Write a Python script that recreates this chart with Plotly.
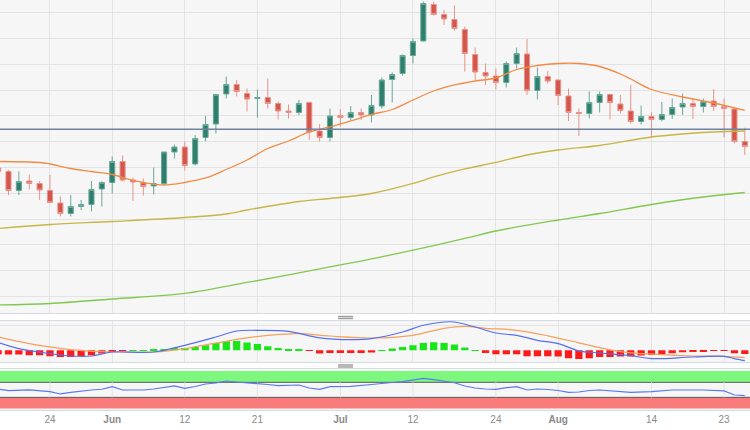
import pandas as pd
import plotly.graph_objects as go
from plotly.subplots import make_subplots

# ---- categories: trading days ----
dates = [d.strftime("%m-%d") for d in pd.bdate_range("2023-05-17", "2023-08-25")]
pos = {d: i for i, d in enumerate(dates)}

# ---- OHLC ----
opens = [1.0964, 1.0957, 1.0919, 1.0938, 1.0933, 1.0919, 1.0894, 1.0873, 1.0887, 1.0891, 1.0922,
         1.0935, 1.0977, 1.0940, 1.0934, 1.0928, 1.0933, 1.0996, 1.1006, 1.0972, 1.1025, 1.1052,
         1.1112, 1.1131, 1.1113, 1.1103, 1.1105, 1.1093, 1.1078, 1.1075, 1.1095, 1.1038, 1.1025,
         1.1069, 1.1065, 1.1075, 1.1070, 1.1088, 1.1141, 1.1153, 1.1189, 1.1218, 1.1291, 1.1271,
         1.1261, 1.1241, 1.1191, 1.1155, 1.1148, 1.1135, 1.1173, 1.1192, 1.1119, 1.1147,
         1.1140, 1.1108, 1.1075, 1.1073, 1.1095, 1.1111, 1.1092, 1.1078, 1.1057, 1.1067, 1.1061,
         1.1071, 1.1086, 1.1093, 1.1087, 1.1098, 1.1087, 1.1082, 1.1017]
highs = [1.0974, 1.0960, 1.0957, 1.0951, 1.0938, 1.0950, 1.0907, 1.0910, 1.0900, 1.0938, 1.0937,
         1.0987, 1.0989, 1.0945, 1.0943, 1.0965, 1.0996, 1.1011, 1.1017, 1.1030, 1.1068, 1.1111,
         1.1147, 1.1140, 1.1123, 1.1121, 1.1143, 1.1097, 1.1091, 1.1100, 1.1095, 1.1052, 1.1083,
         1.1082, 1.1088, 1.1083, 1.1110, 1.1145, 1.1155, 1.1191, 1.1223, 1.1297, 1.1297, 1.1280,
         1.1289, 1.1247, 1.1205, 1.1173, 1.1163, 1.1177, 1.1205, 1.1222, 1.1165, 1.1158,
         1.1141, 1.1123, 1.1083, 1.1117, 1.1117, 1.1111, 1.1110, 1.1130, 1.1089, 1.1076, 1.1096,
         1.1103, 1.1113, 1.1103, 1.1103, 1.1122, 1.1103, 1.1084, 1.1045]
lows = [1.0950, 1.0910, 1.0910, 1.0921, 1.0900, 1.0895, 1.0867, 1.0867, 1.0880, 1.0877, 1.0887,
        1.0913, 1.0937, 1.0898, 1.0909, 1.0911, 1.0930, 1.0983, 1.0959, 1.0969, 1.1017, 1.1033,
        1.1103, 1.1107, 1.1077, 1.1065, 1.1083, 1.1061, 1.1063, 1.1070, 1.1020, 1.1017, 1.1017,
        1.1047, 1.1060, 1.1060, 1.1055, 1.1083, 1.1095, 1.1149, 1.1173, 1.1217, 1.1269, 1.1250,
        1.1239, 1.1157, 1.1140, 1.1130, 1.1121, 1.1125, 1.1163, 1.1110, 1.1101, 1.1133,
        1.1090, 1.1058, 1.1028, 1.1063, 1.1075, 1.1061, 1.1073, 1.1053, 1.1051, 1.1025, 1.1057,
        1.1062, 1.1070, 1.1062, 1.1075, 1.1078, 1.1025, 1.1013, 1.0990]
closes = [1.0957, 1.0919, 1.0937, 1.0933, 1.0920, 1.0895, 1.0873, 1.0887, 1.0891, 1.0921, 1.0935,
          1.0977, 1.0940, 1.0936, 1.0927, 1.0933, 1.0996, 1.1006, 1.0969, 1.1023, 1.1051, 1.1111,
          1.1131, 1.1117, 1.1102, 1.1105, 1.1093, 1.1078, 1.1075, 1.1093, 1.1036, 1.1025, 1.1068,
          1.1065, 1.1075, 1.1070, 1.1089, 1.1140, 1.1151, 1.1189, 1.1217, 1.1293, 1.1271, 1.1262,
          1.1243, 1.1193, 1.1156, 1.1148, 1.1135, 1.1173, 1.1193, 1.1119, 1.1147, 1.1138,
          1.1109, 1.1075, 1.1073, 1.1095, 1.1111, 1.1095, 1.1079, 1.1057, 1.1067, 1.1061, 1.1071,
          1.1085, 1.1093, 1.1087, 1.1097, 1.1087, 1.1083, 1.1017, 1.1007]

price_line_level = 1.10414

# ---- moving averages ----
ma_fast_dates = ["05-17", "05-23", "05-24", "05-26", "05-30", "06-01", "06-05", "06-06", "06-08",
                 "06-12", "06-14", "06-16", "06-20", "06-22", "06-26", "06-28", "06-30", "07-04",
                 "07-06", "07-10", "07-12", "07-14", "07-18", "07-20", "07-24", "07-26", "07-28",
                 "08-01", "08-03", "08-07", "08-09", "08-10", "08-14", "08-17", "08-22", "08-25"]
ma_fast_vals = [1.0977, 1.0975, 1.0972, 1.0963, 1.0957, 1.0951, 1.0939, 1.0935, 1.0930,
                1.0935, 1.0944, 1.0961, 1.0980, 1.1003, 1.1018, 1.1036, 1.1046, 1.1058,
                1.1071, 1.1081, 1.1100, 1.1118, 1.1130, 1.1138, 1.1144, 1.1161, 1.1169,
                1.1173, 1.1173, 1.1167, 1.1152, 1.1142, 1.1121, 1.1106, 1.1094, 1.1079]

ma_mid_dates = ["05-17", "05-24", "06-01", "06-12", "06-16", "06-20", "06-27", "06-30", "07-06",
                "07-12", "07-14", "07-19", "07-24", "07-27", "08-01", "08-07", "08-14", "08-17",
                "08-22", "08-25"]
ma_mid_vals = [1.0843, 1.0851, 1.0857, 1.0865, 1.0872, 1.0880, 1.0897, 1.0903, 1.0913,
               1.0933, 1.0946, 1.0962, 1.0975, 1.0990, 1.1000, 1.1009, 1.1026, 1.1032,
               1.1036, 1.1038]

ma_slow_dates = ["05-17", "05-24", "06-01", "06-12", "06-20", "06-26", "06-29", "07-03", "07-06",
                 "07-11", "07-19", "07-24", "08-01", "08-07", "08-14", "08-21", "08-25"]
ma_slow_vals = [1.0690, 1.0693, 1.0702, 1.0713, 1.0735, 1.0750, 1.0762, 1.0770, 1.0782,
                1.0795, 1.0823, 1.0838, 1.0860, 1.0873, 1.0891, 1.0906, 1.0915]

# ---- MACD ----
macd_dates = ["05-17", "05-19", "05-24", "05-26", "05-30", "06-01", "06-07", "06-12", "06-15",
              "06-19", "06-21", "06-26", "06-29", "07-04", "07-06", "07-11", "07-13", "07-17",
              "07-18", "07-20", "07-24", "07-26", "07-28", "08-01", "08-03", "08-07", "08-10",
              "08-14", "08-18", "08-23", "08-24", "08-25"]
macd_vals = [0.00077, 0.00017, -0.00033, -0.00057, -0.00057, -0.00017, -0.00017, 0.0005, 0.00133,
             0.00193, 0.0020, 0.0019, 0.00125, 0.00107, 0.00117, 0.00183, 0.0025, 0.00283,
             0.00283, 0.00233, 0.00173, 0.0015, 0.0010, 0.00067, -0.00005, -0.00027, -0.00053,
             -0.00083, -0.00067, -0.0006, -0.00083, -0.00103]

signal_dates = ["05-17", "05-22", "05-26", "06-01", "06-07", "06-12", "06-19", "06-22", "06-27",
                "06-30", "07-06", "07-12", "07-17", "07-19", "07-21", "07-26", "07-31", "08-03",
                "08-08", "08-10", "08-15", "08-18", "08-23", "08-25"]
signal_vals = [0.00133, 0.00067, 0.00007, -0.00017, -0.00017, 0.00017, 0.0011, 0.0015, 0.00167,
               0.00143, 0.00123, 0.0015, 0.0022, 0.0024, 0.0022, 0.0020, 0.00145, 0.00075,
               0.00005, -0.00025, -0.00043, -0.00057, -0.0006, -0.00073]

hist_vals = [-0.0004, -0.00043, -0.00043, -0.0005, -0.0005, -0.0006, -0.00067, -0.00067, -0.00057, -0.0005, -0.00033,
             -0.00007, -0.00003, 0.00003, 0.00003, 0.00005, 0.00007, 0.00023, 0.00023, 0.00033, 0.0005,
             0.00073, 0.0009, 0.00093, 0.00077, 0.00063, 0.0004, 0.00023, 0.00013, 0.00007, -0.00005,
             -0.00033, -0.00027, -0.00027, -0.00027, -0.00027, -0.00023, 0.00002, 0.00017, 0.00033, 0.0005,
             0.00073, 0.0008, 0.00073, 0.00057, 0.00027, 0.00002, -0.00027, -0.0004, -0.0004, -0.0004,
             -0.0006, -0.0006, -0.0006, -0.00063, -0.0008, -0.00087, -0.0008, -0.00067, -0.00067, -0.00063,
             -0.00063, -0.00053, -0.00047, -0.00037, -0.0003, -0.0002, -0.00013, -0.00007, -0.00005, -0.00003,
             -0.0003, -0.00037]

# ---- RSI ----
rsi_dates = ["05-17", "05-18", "05-22", "05-24", "05-25", "05-26", "05-30", "05-31", "06-01", "06-02",
             "06-06", "06-07", "06-09", "06-12", "06-13", "06-14", "06-15", "06-16", "06-19", "06-21",
             "06-22", "06-23", "06-27", "06-28", "06-29", "06-30", "07-04", "07-06", "07-07", "07-10",
             "07-11", "07-12", "07-13", "07-14", "07-17", "07-18", "07-19", "07-20", "07-21", "07-24",
             "07-25", "07-26", "07-27", "07-28", "07-31", "08-01", "08-02", "08-03", "08-04", "08-07",
             "08-10", "08-14", "08-16", "08-21", "08-23", "08-24", "08-25"]
rsi_vals = [52, 48, 50, 45, 39, 43.5, 49.6, 51.5, 58.4, 49.6,
            49.6, 52.3, 60.3, 54.1, 59, 65.6, 68.3, 73.6, 70.9, 67.5,
            64.3, 61, 62.9, 54.9, 51.5, 58.4, 59, 64.3, 66, 69.6,
            72, 76, 80.8, 77, 73.6, 69, 60.3, 54.9, 52.3, 51.5,
            55.7, 58.4, 49.6, 52.3, 50.9, 48.3, 43.5, 44.3, 48.3, 49.6,
            43.5, 45, 49.6, 49.6, 47, 36.3, 34.4]
rsi_upper, rsi_lower = 70, 30

# ---- x ticks ----
tick_dates = ["05-24", "06-01", "06-12", "06-21", "07-03", "07-12", "07-24", "08-01", "08-14", "08-23"]
tick_text = ["24", "<b>Jun</b>", "12", "21", "<b>Jul</b>", "12", "24", "<b>Aug</b>", "14", "23"]


def idx(ds):
    return [pos[d] for d in ds]


xi = list(range(len(dates)))

fig = make_subplots(rows=3, cols=1, shared_xaxes=True, vertical_spacing=0.0)

fig.add_trace(go.Candlestick(
    x=xi, open=opens, high=highs, low=lows, close=closes,
    increasing=dict(fillcolor="#2e7f6d", line=dict(color="#69a899", width=1)),
    decreasing=dict(fillcolor="#d6554a", line=dict(color="#e6948b", width=1)),
    whiskerwidth=0, hoverinfo="skip"), row=1, col=1)

fig.add_trace(go.Scatter(x=idx(ma_slow_dates), y=ma_slow_vals, mode="lines", line_shape="spline",
                         line=dict(color="#82c850", width=1.3)), row=1, col=1)
fig.add_trace(go.Scatter(x=idx(ma_mid_dates), y=ma_mid_vals, mode="lines", line_shape="spline",
                         line=dict(color="#c8b546", width=1.3)), row=1, col=1)
fig.add_trace(go.Scatter(x=idx(ma_fast_dates), y=ma_fast_vals, mode="lines", line_shape="spline",
                         line=dict(color="#f28b45", width=1.3)), row=1, col=1)

hist_colors = ["#19e619" if v >= 0 else "#ff1a1a" for v in hist_vals]
fig.add_trace(go.Bar(x=xi, y=hist_vals, marker=dict(color=hist_colors, line=dict(width=0)),
                     width=0.7), row=2, col=1)
fig.add_trace(go.Scatter(x=idx(signal_dates), y=signal_vals, mode="lines", line_shape="spline",
                         line=dict(color="#f6a05c", width=1.2)), row=2, col=1)
fig.add_trace(go.Scatter(x=idx(macd_dates), y=macd_vals, mode="lines", line_shape="spline",
                         line=dict(color="#5570f0", width=1.2)), row=2, col=1)

fig.add_trace(go.Scatter(x=idx(rsi_dates), y=rsi_vals, mode="lines",
                         line=dict(color="#5b78f2", width=1.2)), row=3, col=1)

x_range = [0.18, 72.5]
grid = "#e3e3e3"
border = "#d5dbe3"
tickv = idx(tick_dates)
for ax in ["xaxis", "xaxis2", "xaxis3"]:
    fig.layout[ax].update(range=x_range, tickmode="array", tickvals=tickv, ticktext=tick_text,
                          showgrid=(ax != "xaxis3"), gridcolor=grid, gridwidth=1, zeroline=False,
                          showline=True, linecolor=border, mirror=True, ticks="",
                          showticklabels=(ax == "xaxis3"),
                          tickfont=dict(family="Liberation Sans, Arial, sans-serif", size=10, color="#8a8a8a"))
fig.layout.xaxis.rangeslider.visible = False

fig.update_layout(
    yaxis=dict(domain=[0.2359, 1.0], range=[1.06734, 1.1300], tickmode="linear", tick0=1.12746,
               dtick=0.00516, showticklabels=False, gridcolor=grid, zeroline=False, showline=False),
    yaxis2=dict(domain=[0.1163, 0.2171], range=[-0.0012, 0.00293], tickmode="array", tickvals=[0.00243],
                showticklabels=False, gridcolor=grid, zeroline=False, showline=False),
    yaxis3=dict(domain=[0.0, 0.0993], range=[-3.73, 104.8], showgrid=False, showticklabels=False,
                zeroline=False, showline=False),
    width=750, height=430, margin=dict(l=0, r=0, t=0, b=20),
    paper_bgcolor="white", plot_bgcolor="#f6f6f6", showlegend=False, boxgap=0.3, bargap=0.3,
)

shapes = [
    dict(type="rect", xref="x3 domain", x0=0, x1=1, yref="y3", y0=rsi_upper, y1=100,
         fillcolor="#7ef77e", line=dict(width=0), layer="below"),
    dict(type="rect", xref="x3 domain", x0=0, x1=1, yref="y3", y0=0, y1=rsi_lower,
         fillcolor="#f87a7a", line=dict(width=0), layer="below"),
]
# vertical grid in the neutral RSI zone only (the bands cover it)
for t in tickv:
    shapes.append(dict(type="line", xref="x3", x0=t, x1=t, yref="y3", y0=rsi_lower, y1=rsi_upper,
                       line=dict(color=grid, width=1), layer="below"))
shapes += [
    dict(type="line", xref="x3 domain", x0=0, x1=1, yref="y3", y0=rsi_upper, y1=rsi_upper,
         line=dict(color="#5a5a5a", width=1), layer="below"),
    dict(type="line", xref="x3 domain", x0=0, x1=1, yref="y3", y0=rsi_lower, y1=rsi_lower,
         line=dict(color="#5a5a5a", width=1), layer="below"),
    dict(type="line", xref="x domain", x0=0, x1=1, yref="y", y0=price_line_level, y1=price_line_level,
         line=dict(color="#6f82a0", width=1.5), layer="above"),
]
# panel resize grabbers
for y_a, y_b in [(0.2280, 0.2232), (0.1098, 0.1049)]:
    for yy in (y_a, y_b):
        shapes.append(dict(type="line", xref="paper", yref="paper", x0=0.4507, x1=0.4707, y0=yy, y1=yy,
                           line=dict(color="#a0a0a0", width=1.5)))
fig.update_layout(shapes=shapes)

fig.write_html("out.html", config={"displayModeBar": False},
               post_script="document.body.style.margin='0';document.body.style.overflow='hidden';")
